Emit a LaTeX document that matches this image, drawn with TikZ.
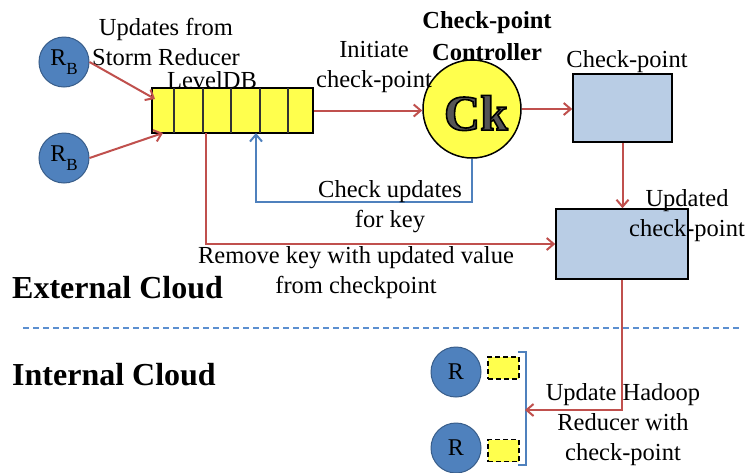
\documentclass[tikz,border=0pt]{standalone}
\usepackage{fontspec}
\setmainfont{Liberation Serif}
\usetikzlibrary{arrows.meta}
\definecolor{cblue}{RGB}{79,129,189}
\definecolor{cblueb}{RGB}{56,93,138}
\definecolor{cred}{RGB}{192,80,77}
\definecolor{cyel}{RGB}{255,255,77}
\definecolor{cbox}{RGB}{185,205,229}
\definecolor{ckgray}{RGB}{85,85,85}
\definecolor{cdash}{RGB}{91,143,208}
\newcommand{\outlinedtext}[1]{\special{pdf:code q 2 Tr 1.6 w 0 G}#1\special{pdf:code Q}}
\begin{document}
\begin{tikzpicture}[x=1pt,y=-1pt,
  txt/.style={font=\fontsize{24.5}{30}\selectfont, align=center, inner sep=0pt},
  btxt/.style={font=\fontsize{24.5}{32}\selectfont\bfseries, align=center, inner sep=0pt},
  bigtxt/.style={font=\fontsize{32}{36}\selectfont\bfseries, inner sep=0pt, anchor=west},
  rnode/.style={circle, fill=cblue, draw=cblueb, line width=1pt, minimum size=50pt, inner sep=0pt, font=\fontsize{24}{24}\selectfont},
  bluebox/.style={draw=black, fill=cbox, line width=1.5pt, inner sep=0pt},
  redarr/.style={draw=cred, line width=2pt, -{Straight Barb[length=7pt,width=12pt,line width=2pt]}},
  bluearr/.style={draw=cblue, line width=2pt, -{Straight Barb[length=7pt,width=12pt,line width=2pt]}},
  smallbox/.style={draw=black, fill=cyel, dash pattern=on 5pt off 3pt, line width=1.5pt, minimum width=31pt, minimum height=22pt, inner sep=0pt},
  cktxt/.style={font=\fontsize{50}{50}\selectfont\bfseries, inner sep=0pt}
]
\useasboundingbox (0,0) rectangle (748,472);
\fill[white] (0,0) rectangle (748,472);

% Reducers (storm)
\node[rnode] (rb1) at (64,62) {R\raisebox{-0.35em}{\fontsize{17}{17}\selectfont B}};
\node[rnode] (rb2) at (64,158) {R\raisebox{-0.35em}{\fontsize{17}{17}\selectfont B}};

% LevelDB
\node[draw=black, fill=cyel, line width=1.5pt, minimum width=161pt, minimum height=45pt, inner sep=0pt] (db) at (232.5,110.5) {};
\foreach \xx in {174,203,231,260,288} \draw[line width=1.2pt, black!80] (\xx,88) -- (\xx,133);
\node[txt] (dblabel) at (212,80) {LevelDB};
\node[txt] (updlab) at (166,42) {Updates from\\Storm Reducer};

\coordinate (in1) at (155,99);
\coordinate (in2) at (163,133);
\draw[redarr] (rb1.east) -- (in1);
\draw[redarr] (rb2.east) -- (in2);

% Check-point controller
\node[circle, fill=cyel, draw=black, line width=1.5pt, minimum size=98pt, inner sep=0pt] (ck) at (472,109) {};
\node[cktxt, text=ckgray] (cktext) at (476,113) {\outlinedtext{Ck}};
\node[btxt] (cklab) at (487,36) {Check-point\\Controller};
\node[txt] (initlab) at (374,67) {Initiate\\check-point};

\draw[redarr] (db.east) -- (db.east -| ck.west);

% Check-point box
\node[bluebox, minimum width=99pt, minimum height=68pt] (cp) at (622.5,108) {};
\node[txt] (cplab) at (627,62) {Check-point};
\draw[redarr] (ck.east) -- (ck.east -| cp.west);

% Updated check-point box
\node[bluebox, minimum width=132pt, minimum height=70pt] (upd) at (622,244) {};
\node[txt] (updcplab) at (687,216) {Updated\\check-point};
\draw[redarr] (cp.south) -- (cp.south |- upd.north);

% Check updates (blue)
\coordinate (dbin) at (256,133);
\draw[bluearr] (ck.south) -- ++(0,43) -| (dbin);
\node[txt] (chklab) at (390,207) {Check updates\\for key};

% Remove key (red)
\coordinate (dbout) at (206,133);
\draw[redarr] (dbout) |- (upd.west);
\node[txt] (remlab) at (356,273) {Remove key with updated value\\from checkpoint};

% Cloud labels and divider
\node[bigtxt] (ext) at (12,288) {External Cloud};
\node[bigtxt] (int) at (12,375) {Internal Cloud};
\draw[cdash, line width=2pt, dash pattern=on 6pt off 4pt] (23,328) -- (742,328);

% Hadoop reducers
\node[rnode] (r1) at (456,372) {R};
\node[rnode] (r2) at (456,448) {R};
\node[smallbox] (s1) at (503.5,368) {};
\node[smallbox] (s2) at (503.5,450.5) {};
\draw[cblue, line width=1.2pt] (518,352) -- (526,352) -- (526,465) -- (518,465);
\coordinate (brk) at (525,410);
\draw[redarr] (upd.south) |- (brk);
\node[txt] (hadlab) at (623,425) {Update Hadoop\\Reducer with\\check-point};
\end{tikzpicture}
\end{document}
